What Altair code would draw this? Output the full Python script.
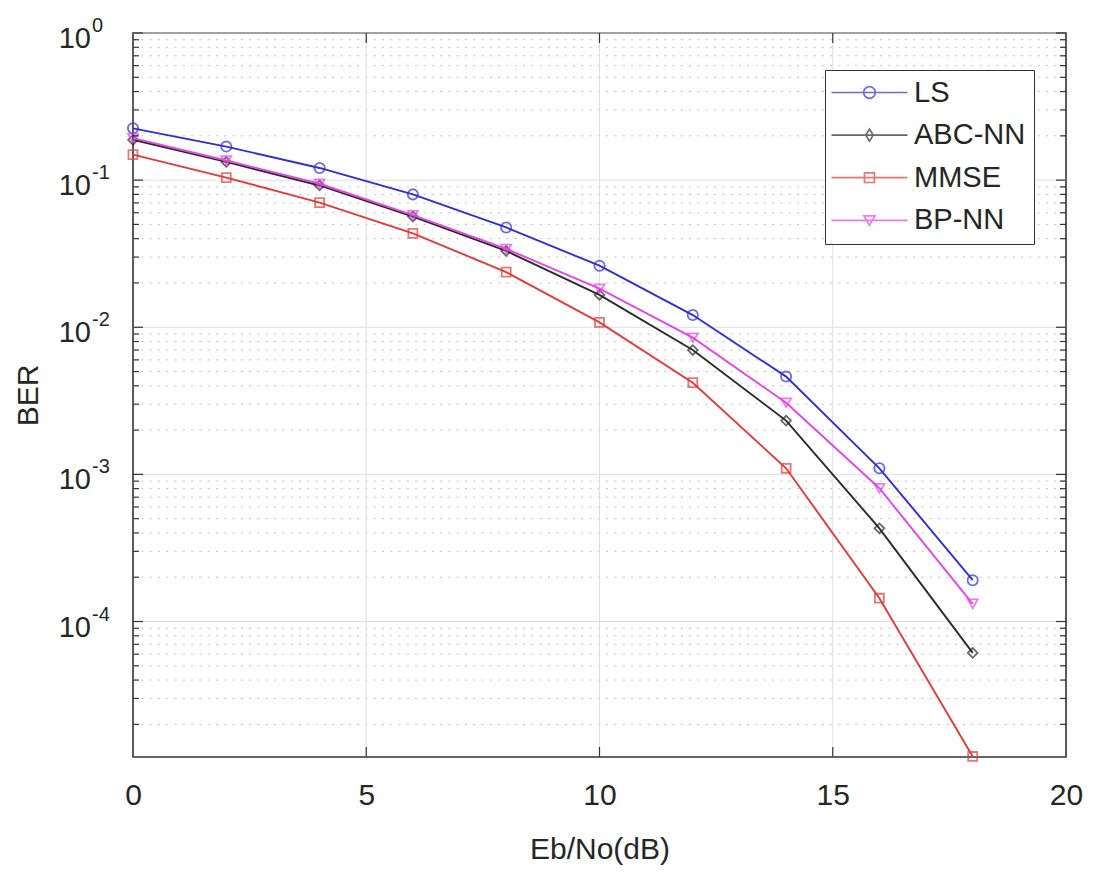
import altair as alt
import pandas as pd

# ---------------- data ----------------
snr = [0, 2, 4, 6, 8, 10, 12, 14, 16, 18]
ber_ls = [0.225, 0.169, 0.121, 0.080, 0.0477, 0.0262, 0.0121, 0.00462, 0.00110, 0.000191]
ber_abc = [0.188, 0.133, 0.092, 0.0565, 0.0330, 0.0166, 0.0070, 0.00232, 0.00043, 0.0000612]
ber_mmse = [0.149, 0.104, 0.0703, 0.0435, 0.0237, 0.0108, 0.0042, 0.00110, 0.000144, 0.0000121]
ber_bp = [0.193, 0.136, 0.0945, 0.0578, 0.0341, 0.0183, 0.0085, 0.00307, 0.000805, 0.000132]

series_names = ["LS", "ABC-NN", "MMSE", "BP-NN"]
series_values = [ber_ls, ber_abc, ber_mmse, ber_bp]
series_colors = ["#2f2fd2", "#2a2a2a", "#e23b3b", "#e646e6"]
series_shapes = ["circle", "diamond", "square", "triangle-down"]
series_sizes = [105, 95, 80, 100]

x_ticks = [0, 5, 10, 15, 20]
x_grid = [5, 10, 15]
y_major = [1, 0.1, 0.01, 0.001, 0.0001]
y_exponents = ["0", "-1", "-2", "-3", "-4"]
y_min = 1.2e-5
y_max = 1.0
y_minor = [m * 10.0 ** e for e in range(-5, 0) for m in range(2, 10) if m * 10.0 ** e >= y_min]

# legend symbols: line + marker as custom paths (unit = sqrt(size)/2)
legend_paths = [
    "M0,0H12.67M7.3,0A0.97,0.97 0 1 1 5.36,0A0.97,0.97 0 1 1 7.3,0",
    "M0,0H12.67M6.33,-1L6.95,0L6.33,1L5.71,0Z",
    "M0,0H12.67M5.5,-0.8H7.16V0.8H5.5Z",
    "M0,0H12.67M5.4,-0.75H7.26L6.33,0.85Z",
]

W, H = 933, 724
FONT = "Liberation Sans"
TXT = "#262626"

rows = []
for name, vals in zip(series_names, series_values):
    for xv, yv in zip(snr, vals):
        rows.append({"snr": xv, "ber": yv, "series": name})
df = pd.DataFrame(rows)

xscale = alt.Scale(domain=[0, 20], nice=False, zero=False)
yscale = alt.Scale(type="log", domain=[y_min, y_max], nice=False)

x_axis = alt.Axis(values=x_ticks, ticks=False, domain=False, grid=False,
                  labelFontSize=30, labelFont=FONT, labelColor=TXT, labelPadding=23,
                  labelFlush=False,
                  title="Eb/No(dB)", titleFontSize=30, titleFont=FONT, titleColor=TXT,
                  titleFontWeight="normal", titlePadding=24)
y_axis = alt.Axis(labels=False, ticks=False, domain=False, grid=False,
                  title="BER", titleFontSize=30, titleFont=FONT, titleColor=TXT,
                  titleFontWeight="normal", titlePadding=90)


def X(field):
    return alt.X(field, type="quantitative", scale=xscale, axis=x_axis)


def Y(field):
    return alt.Y(field, type="quantitative", scale=yscale, axis=y_axis)


minor_df = pd.DataFrame({"v": y_minor})
major_df = pd.DataFrame({"v": y_major, "e": y_exponents})
xgrid_df = pd.DataFrame({"x": x_grid})

minor_grid = alt.Chart(minor_df).mark_rule(color="#c4c4c4", strokeWidth=1, strokeDash=[2, 6.3]).encode(
    y=Y("v"), x=alt.value(0), x2=alt.value(W))
major_grid = alt.Chart(major_df).mark_rule(color="#dedede", strokeWidth=1).encode(
    y=Y("v"), x=alt.value(0), x2=alt.value(W))
x_grid_l = alt.Chart(xgrid_df).mark_rule(color="#dedede", strokeWidth=1).encode(
    x=X("x"), y=alt.value(0), y2=alt.value(H))

tick_col = "#333333"
yt_major_l = alt.Chart(major_df).mark_rule(color=tick_col, strokeWidth=1.2).encode(
    y=Y("v"), x=alt.value(0), x2=alt.value(10))
yt_major_r = alt.Chart(major_df).mark_rule(color=tick_col, strokeWidth=1.2).encode(
    y=Y("v"), x=alt.value(W - 10), x2=alt.value(W))
yt_minor_l = alt.Chart(minor_df).mark_rule(color=tick_col, strokeWidth=1.2).encode(
    y=Y("v"), x=alt.value(0), x2=alt.value(6))
yt_minor_r = alt.Chart(minor_df).mark_rule(color=tick_col, strokeWidth=1.2).encode(
    y=Y("v"), x=alt.value(W - 6), x2=alt.value(W))
xt_b = alt.Chart(xgrid_df).mark_rule(color=tick_col, strokeWidth=1.2).encode(
    x=X("x"), y=alt.value(H - 10), y2=alt.value(H))
xt_t = alt.Chart(xgrid_df).mark_rule(color=tick_col, strokeWidth=1.2).encode(
    x=X("x"), y=alt.value(0), y2=alt.value(10))

ylab_base = alt.Chart(major_df).mark_text(align="right", baseline="middle", fontSize=29,
                                          font=FONT, color=TXT, dy=6).encode(
    y=Y("v"), x=alt.value(-42), text=alt.value("10"))
ylab_exp = alt.Chart(major_df).mark_text(align="left", baseline="middle", fontSize=20,
                                         font=FONT, color=TXT, dy=-7).encode(
    y=Y("v"), x=alt.value(-41), text=alt.Text("e:N"))

layers = [minor_grid, major_grid, x_grid_l]
for name, col, shp, sz in zip(series_names, series_colors, series_shapes, series_sizes):
    sub = df[df["series"] == name]
    line = alt.Chart(sub).mark_line(strokeWidth=1.9, clip=False).encode(
        x=X("snr"), y=Y("ber"), color=alt.value(col), order="snr:Q")
    pts = alt.Chart(sub).mark_point(filled=False, strokeWidth=1.8, size=sz, clip=False).encode(
        x=X("snr"), y=Y("ber"), color=alt.value(col), shape=alt.value(shp))
    layers += [line, pts]

legend_kw = dict(orient="none", legendX=692, legendY=37, title=None, padding=8,
                 rowPadding=12.6, labelFontSize=29, labelFont=FONT, labelColor=TXT,
                 symbolSize=144, symbolStrokeWidth=1.7, labelOffset=68, symbolOffset=-16,
                 strokeColor="#333333", fillColor="white", labelLimit=0)
legend_layer = alt.Chart(df).mark_point(filled=False, strokeWidth=1.7).encode(
    x=X("snr"), y=Y("ber"),
    color=alt.Color("series:N", scale=alt.Scale(domain=series_names, range=series_colors),
                    legend=alt.Legend(**legend_kw)),
    shape=alt.Shape("series:N", scale=alt.Scale(domain=series_names, range=legend_paths),
                    legend=alt.Legend(**legend_kw)),
).transform_filter("false")

layers += [yt_major_l, yt_major_r, yt_minor_l, yt_minor_r, xt_b, xt_t, ylab_base, ylab_exp, legend_layer]

chart = alt.layer(*layers).properties(
    width=W, height=H,
    autosize=alt.AutoSizeParams(type="none"),
    padding={"left": 133, "top": 33, "right": 36, "bottom": 116},
    background="white",
).configure_view(stroke="#333333", strokeWidth=1.6)

chart.save("out.html", embed_options={"renderer": "svg", "actions": False})
